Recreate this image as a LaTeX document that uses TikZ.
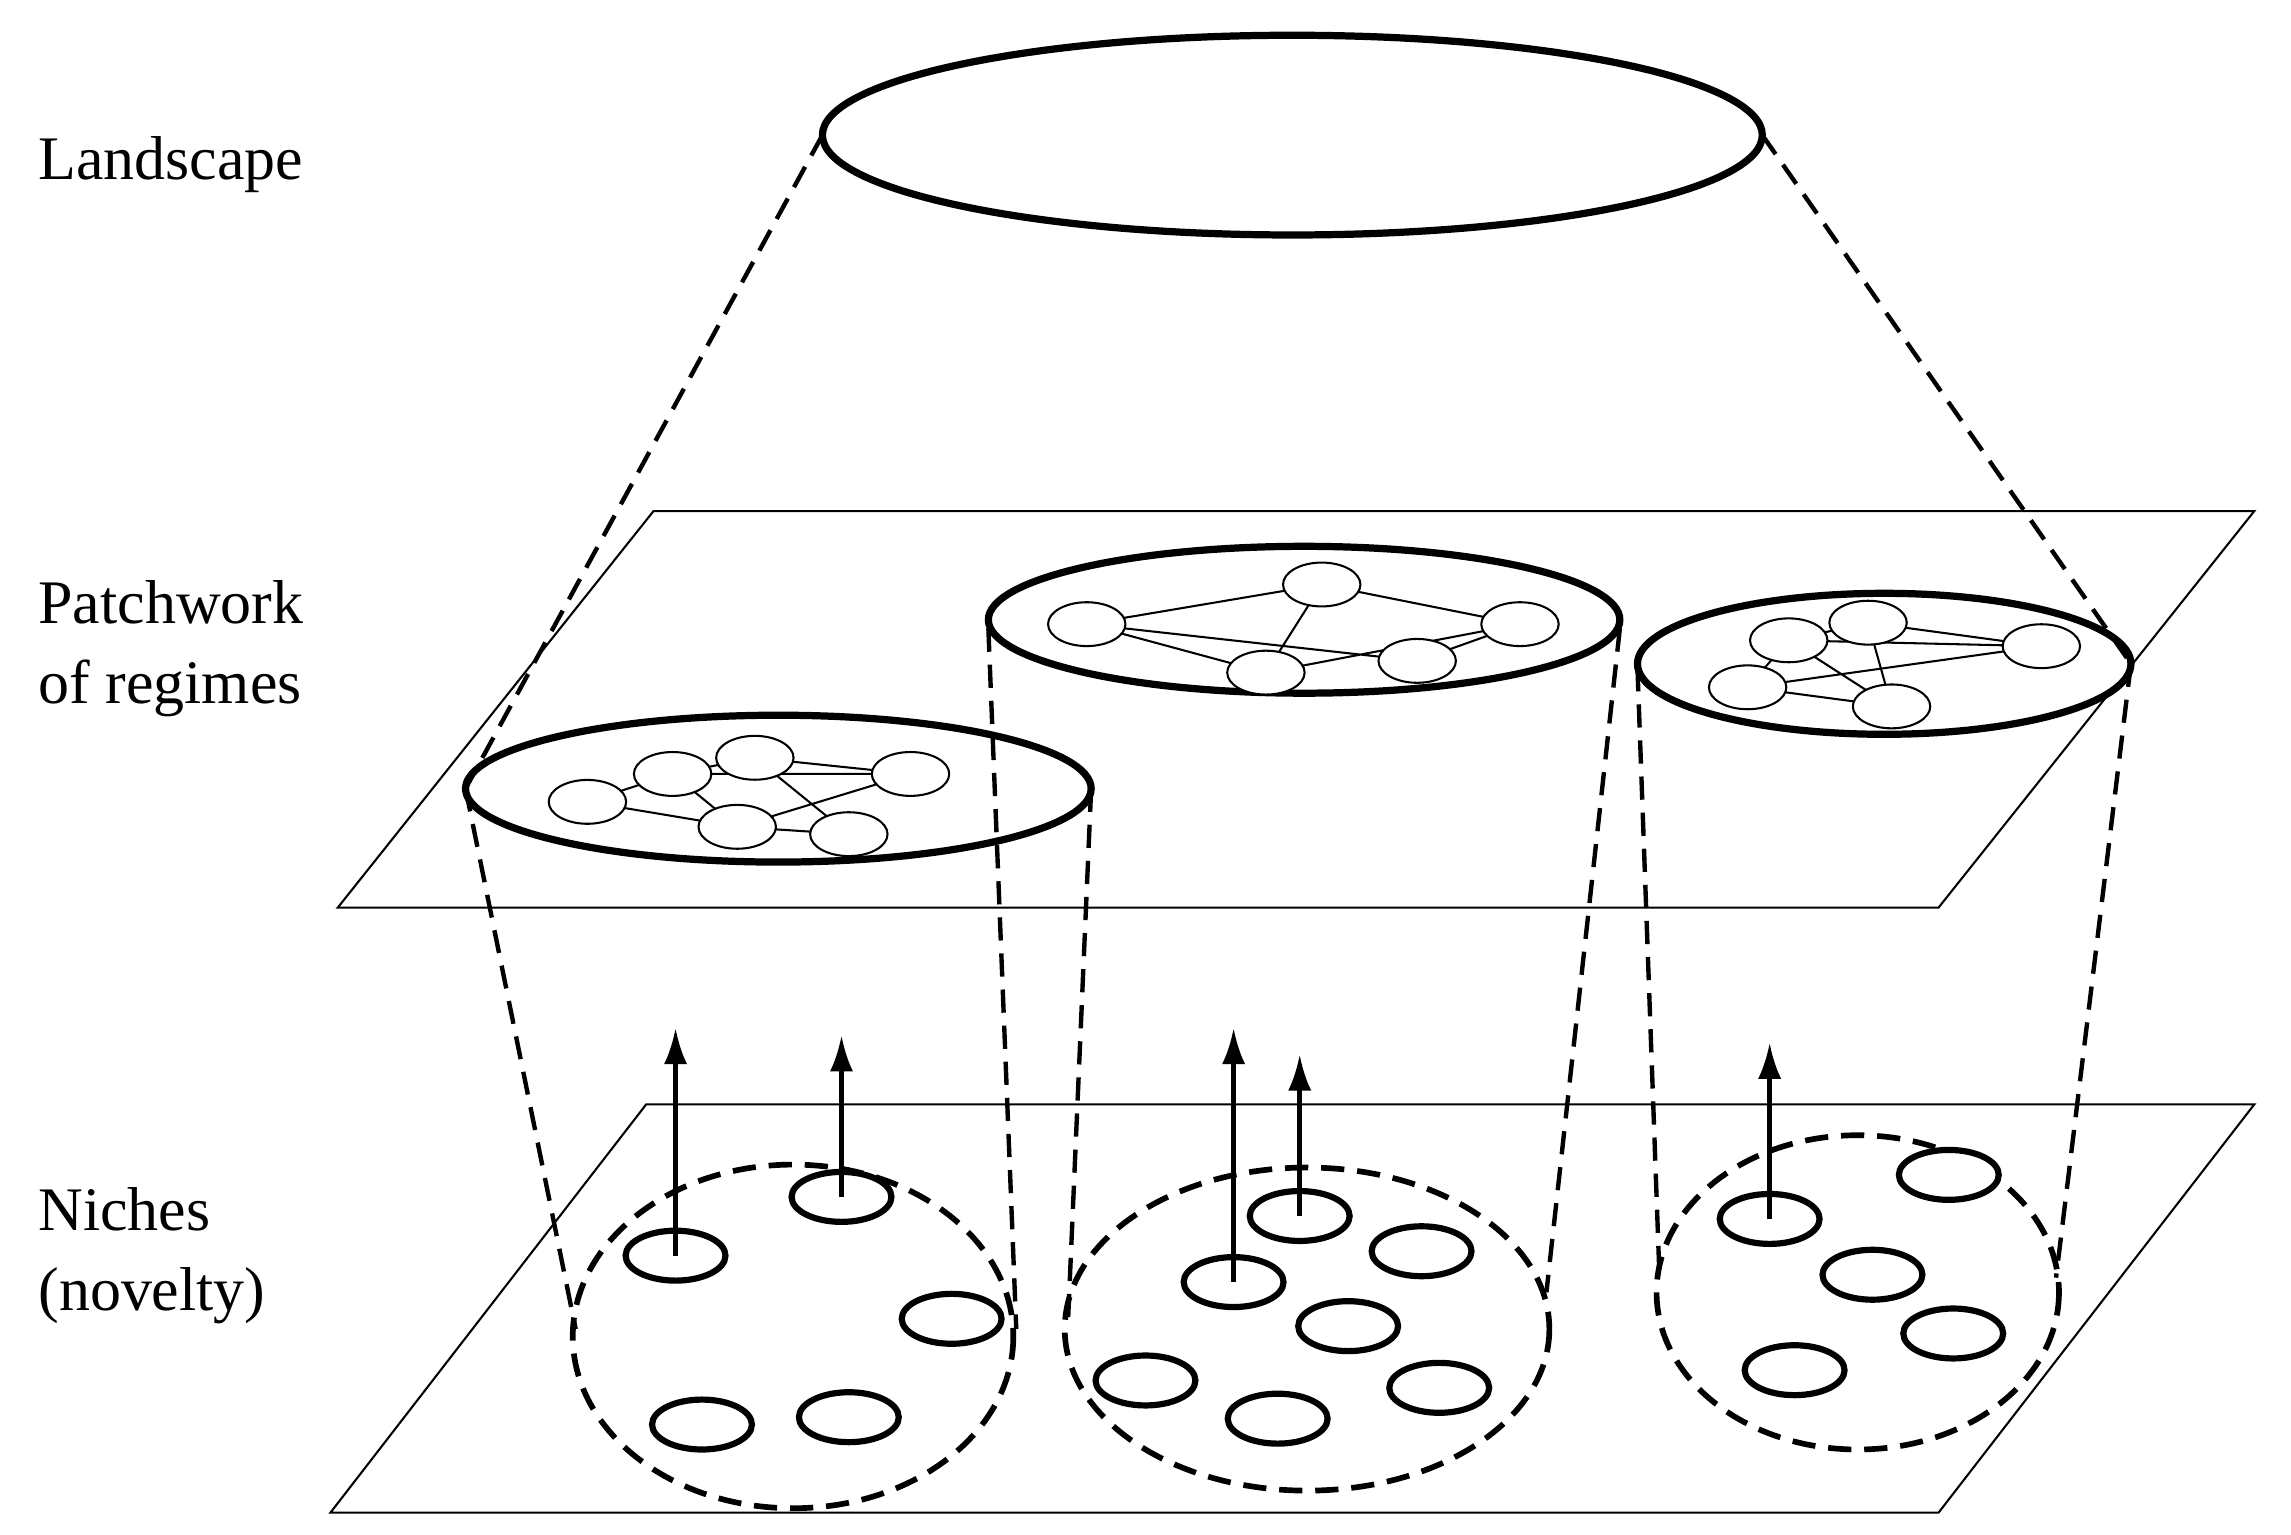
\documentclass[tikz,border=0pt]{standalone}
\usepackage{fontspec}
\setmainfont{Liberation Serif}
\usetikzlibrary{arrows.meta,shapes.geometric}
\begin{document}
\begin{tikzpicture}[x=0.02cm,y=-0.02cm,
  thickell/.style={line width=2.8pt},
  dsh/.style={line width=1.7pt,dash pattern=on 9pt off 5pt},
  plane/.style={line width=0.8pt},
  nich/.style={line width=2.2pt,dash pattern=on 9pt off 5pt},
  net/.style={line width=0.8pt},
  arr/.style={line width=1.8pt,-{Latex[length=14pt,width=9pt]}},
  lbl/.style={font=\fontsize{24}{31}\selectfont,align=left,anchor=west}]
\useasboundingbox (0,0) rectangle (1560,1045);
% planes
\draw[plane,fill=white] (230,618) -- (445,348) -- (1535,348) -- (1320,618) -- cycle;
\draw[plane] (225,1030) -- (440,752) -- (1535,752) -- (1320,1030) -- cycle;
% labels
\node[lbl] (l1) at (20,112) {Landscape};
\node[lbl] (l2) at (20,442) {Patchwork\\of regimes};
\node[lbl] (l3) at (20,855) {Niches\\(novelty)};
% landscape
\draw[thickell] (880,92) ellipse [x radius=320,y radius=68];
\coordinate (LL) at (560,92); \coordinate (LR) at (1200,92);
% regimes
\draw[thickell,fill=white] (530,537) ellipse [x radius=213,y radius=50];
\draw[thickell,fill=white] (888,422) ellipse [x radius=215,y radius=50];
\draw[thickell,fill=white] (1283,452) ellipse [x radius=168,y radius=48];
\coordinate (R1L) at (317,537); \coordinate (R1R) at (743,537);
\coordinate (R2L) at (673,428); \coordinate (R2R) at (1103,428);
\coordinate (R3L) at (1115,455); \coordinate (R3R) at (1451,452);
\draw[dsh] (LL) -- (R1L); \draw[dsh] (LR) -- (R3R);
% niches
\draw[nich] (540,910) ellipse [x radius=150,y radius=117];
\draw[nich] (890,905) ellipse [x radius=165,y radius=110];
\draw[nich] (1265,880) ellipse [x radius=137,y radius=107];
\coordinate (N1L) at (392,905); \coordinate (N1R) at (692,905);
\coordinate (N2L) at (727,905); \coordinate (N2R) at (1053,880);
\coordinate (N3L) at (1130,870); \coordinate (N3R) at (1400,870);
\draw[dsh] (R1L) -- (N1L); \draw[dsh] (R1R) -- (N2L);
\draw[dsh] (R2L) -- (N1R); \draw[dsh] (R2R) -- (N2R);
\draw[dsh] (R3L) -- (N3L); \draw[dsh] (R3R) -- (N3R);
% small niche ellipses
\foreach \n/\x/\y in {a/460/855,b/573/815,c/648/898,d/478/970,e/578/965,
  f/885/828,g/968/852,h/840/873,i/918/903,j/780/940,k/870/966,l/980/945,
  m/1205/830,n/1327/800,o/1275/868,p/1330/908,q/1222/933}
  {\draw[line width=2.4pt,fill=white] (\x,\y) ellipse [x radius=34,y radius=17];
   \coordinate (s\n) at (\x,\y);}
\foreach \n/\y in {a/700,b/705,h/700,f/718,m/710}
  \draw[arr] (s\n) -- (s\n |- 0,\y);
% networks
\tikzset{nd/.style={draw,ellipse,line width=0.8pt,fill=white,minimum width=30pt,minimum height=17pt,inner sep=0pt}}
\draw[net] (400,546)--(458,527)--(514,516)--(620,527) (458,527)--(502,563)--(400,546)
  (514,516)--(578,568)--(502,563) (458,527)--(620,527) (502,563)--(620,527);
\draw[net] (740,425)--(900,398)--(1035,425)--(862,458)--(740,425) (900,398)--(862,458) (740,425)--(965,450)--(1035,425);
\draw[net] (1218,436)--(1272,424)--(1390,440)--(1218,436)--(1190,468)--(1288,481)--(1218,436) (1272,424)--(1288,481) (1190,468)--(1390,440);
\foreach \n/\x/\y in {a1/400/546,a2/458/527,a3/514/516,a4/620/527,a5/502/563,a6/578/568,
  b1/740/425,b2/900/398,b3/1035/425,b4/862/458,b5/965/450,
  c1/1218/436,c2/1272/424,c3/1390/440,c4/1190/468,c5/1288/481}
  \node[nd] (\n) at (\x,\y) {};
\end{tikzpicture}
\end{document}
